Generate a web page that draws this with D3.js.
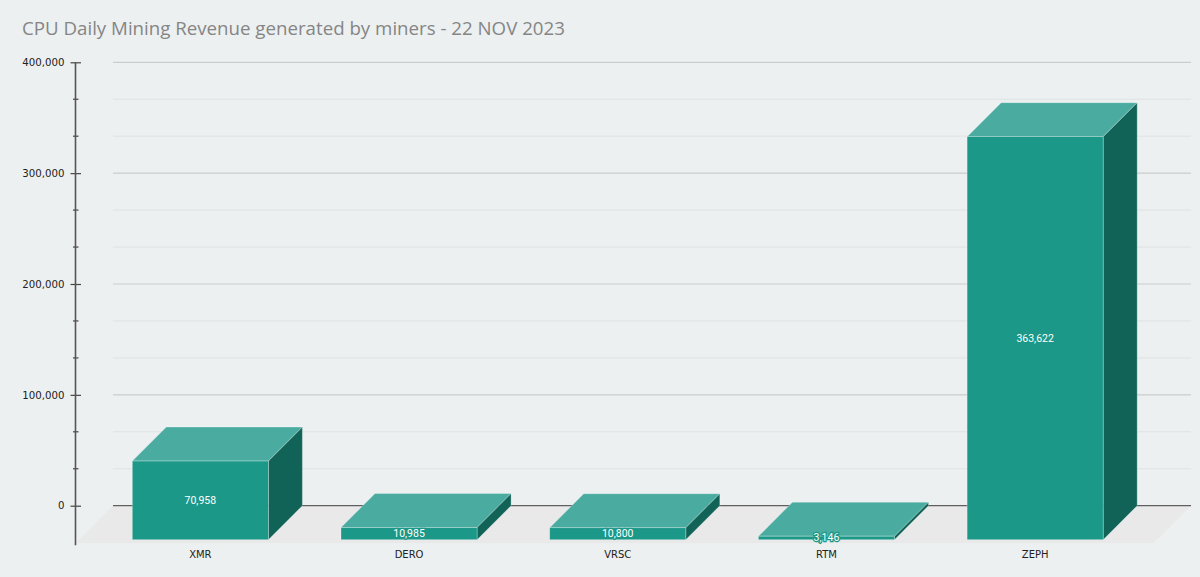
<!DOCTYPE html>
<html>
<head>
<meta charset="utf-8">
<script src="https://cdn.jsdelivr.net/npm/d3@7"></script>
<style>
  html, body { margin: 0; padding: 0; background: #edf0f1; }
  svg { display: block; }
</style>
</head>
<body>
<svg width="1200" height="577"></svg>
<script>
const svg_width = 1200;
const svg_height = 577;

// chart data
const coins = ["XMR", "DERO", "VRSC", "RTM", "ZEPH"];
const revenue = [70958, 10985, 10800, 3146, 363622];
const major_ticks = [0, 100000, 200000, 300000, 400000];

const chart_title = "CPU Daily Mining Revenue generated by miners - 22 NOV 2023";

// 3d depth of the plot, the back plane sits up and to the right of the front
const depth = 34;

const svg = d3.select("svg");

// y scale is laid out on the back plane, bars get shifted down by depth
const y = d3.scaleLinear().domain([0, 400000]).range([505.7, 62.3]);
const x = d3.scaleBand().domain(coins).range([96, 1139.5]).paddingInner(0.348).paddingOuter(0.174);

const back_left = 113;
const back_right = 1191;

// title
svg.append("text")
  .attr("x", 22)
  .attr("y", 34.5)
  .attr("fill", "#858585")
  .attr("font-family", "'Open Sans', sans-serif")
  .attr("font-size", "18.7px")
  .text(chart_title);

// floor
const floor_drop = 37.5;
svg.append("path")
  .attr("fill", "#e9e9e9")
  .attr("d", `M ${back_left} ${y(0)} L ${back_right} ${y(0)} L ${back_right - floor_drop} ${y(0) + floor_drop} L ${back_left - floor_drop} ${y(0) + floor_drop} Z`);

// grid lines, minor ones every third of a step
const minor_ticks = d3.range(0, 400000, 100000 / 3).filter(v => v % 100000 > 1);
svg.append("g").selectAll("line.minor").data(minor_ticks).join("line")
  .attr("x1", back_left).attr("x2", back_right)
  .attr("y1", d => y(d)).attr("y2", d => y(d))
  .attr("stroke", "#dfe2e3").attr("stroke-width", 1);

svg.append("g").selectAll("line.major").data(major_ticks.filter(d => d > 0)).join("line")
  .attr("x1", back_left).attr("x2", back_right)
  .attr("y1", d => y(d)).attr("y2", d => y(d))
  .attr("stroke", "#c9cdcf").attr("stroke-width", 1.2);

// zero line
svg.append("line")
  .attr("x1", back_left).attr("x2", back_right)
  .attr("y1", y(0)).attr("y2", y(0))
  .attr("stroke", "#5f5f5f").attr("stroke-width", 1.3);

// value axis on the left, built with d3 then moved
const axis_x = 75.5;
const y_axis = d3.axisLeft(y)
  .tickValues(major_ticks)
  .tickFormat(d3.format(","))
  .tickSize(5)
  .tickPadding(5);

const axis_g = svg.append("g")
  .attr("transform", `translate(${axis_x},0)`)
  .call(y_axis);
axis_g.select(".domain").remove();
axis_g.selectAll(".tick line").attr("x2", 5.5).attr("x1", -5).attr("stroke", "#444").attr("stroke-width", 1.2);
axis_g.selectAll(".tick text")
  .attr("x", -11)
  .attr("fill", "#222")
  .attr("font-family", "'DejaVu Sans', Verdana, sans-serif")
  .attr("font-size", "10.2px");

axis_g.selectAll("line.minor-tick").data(minor_ticks).join("line")
  .attr("class", "minor-tick")
  .attr("x1", -2.5).attr("x2", 3)
  .attr("y1", d => y(d)).attr("y2", d => y(d))
  .attr("stroke", "#444").attr("stroke-width", 1.2);

axis_g.append("line")
  .attr("x1", 0).attr("x2", 0)
  .attr("y1", y(400000)).attr("y2", y(0) + 39.5)
  .attr("stroke", "#555").attr("stroke-width", 1.6);

// bars: front face, top face, side face
const front_color = "#1b9888";
const top_color = "#4aaca0";
const side_color = "#116357";

const bars = svg.append("g").selectAll("g.bar")
  .data(coins.map((c, i) => ({ coin: c, value: revenue[i] })))
  .join("g").attr("class", "bar");

function frontTop(d) { return y(d.value) + depth; }
const front_bottom = y(0) + depth;

bars.append("path")
  .attr("fill", top_color)
  .attr("stroke", "#ffffff").attr("stroke-opacity", 0.35).attr("stroke-width", 0.8)
  .attr("d", d => {
    const x0 = x(d.coin), x1 = x(d.coin) + x.bandwidth(), t = frontTop(d);
    return `M ${x0} ${t} L ${x0 + depth} ${t - depth} L ${x1 + depth} ${t - depth} L ${x1} ${t} Z`;
  });

bars.append("path")
  .attr("fill", side_color)
  .attr("stroke", "#ffffff").attr("stroke-opacity", 0.35).attr("stroke-width", 0.8)
  .attr("d", d => {
    const x1 = x(d.coin) + x.bandwidth(), t = frontTop(d);
    return `M ${x1} ${t} L ${x1 + depth} ${t - depth} L ${x1 + depth} ${front_bottom - depth} L ${x1} ${front_bottom} Z`;
  });

bars.append("rect")
  .attr("fill", front_color)
  .attr("stroke", "#ffffff").attr("stroke-opacity", 0.35).attr("stroke-width", 0.8)
  .attr("x", d => x(d.coin))
  .attr("y", d => frontTop(d))
  .attr("width", x.bandwidth())
  .attr("height", d => front_bottom - frontTop(d));

// value labels in the middle of the front face
bars.append("text")
  .attr("x", d => x(d.coin) + x.bandwidth() / 2)
  .attr("y", d => (frontTop(d) + front_bottom) / 2)
  .attr("text-anchor", "middle")
  .attr("dominant-baseline", "central")
  .attr("font-family", "Roboto, sans-serif")
  .attr("font-size", "10.5px")
  .attr("fill", "#ffffff")
  .attr("stroke", front_color)
  .attr("stroke-width", 2.5)
  .attr("paint-order", "stroke")
  .text(d => d3.format(",")(d.value));

// category labels
svg.append("g").selectAll("text.cat").data(coins).join("text")
  .attr("x", d => x(d) + x.bandwidth() / 2)
  .attr("y", 557.5)
  .attr("text-anchor", "middle")
  .attr("fill", "#222")
  .attr("font-family", "'DejaVu Sans', Verdana, sans-serif")
  .attr("font-size", "10px")
  .text(d => d);
</script>
</body>
</html>
